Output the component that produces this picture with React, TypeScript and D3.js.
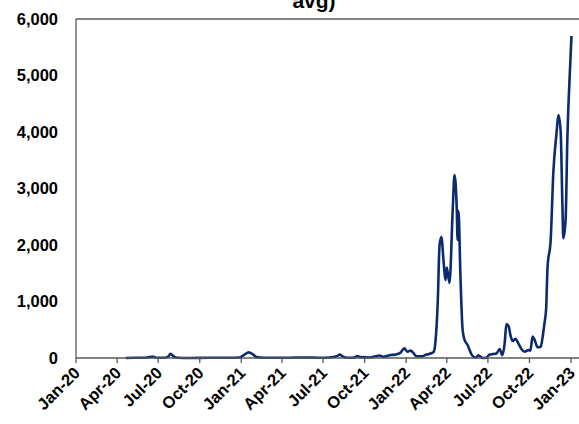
import React from "react";
import * as d3 from "d3";

// readings (date, value)
const dates = [
  "2020-04-20", "2020-05-10", "2020-06-01", "2020-06-12", "2020-06-18", "2020-06-27",
  "2020-07-15", "2020-07-24", "2020-07-28", "2020-08-04", "2020-08-13", "2020-09-08",
  "2020-10-23", "2020-12-06", "2020-12-28", "2021-01-08", "2021-01-17", "2021-01-26",
  "2021-02-04", "2021-02-21", "2021-04-18", "2021-05-21", "2021-06-23", "2021-07-15",
  "2021-07-31", "2021-08-07", "2021-08-13", "2021-08-24", "2021-09-09", "2021-09-15",
  "2021-09-22", "2021-10-12", "2021-10-25", "2021-11-03", "2021-11-12", "2021-11-25",
  "2021-12-08", "2021-12-19", "2021-12-28", "2022-01-04", "2022-01-11", "2022-01-17",
  "2022-01-24", "2022-02-04", "2022-02-15", "2022-02-24", "2022-03-03", "2022-03-07",
  "2022-03-12", "2022-03-16", "2022-03-20", "2022-03-25", "2022-03-29", "2022-04-01",
  "2022-04-07", "2022-04-14", "2022-04-18", "2022-04-23", "2022-04-25", "2022-04-27",
  "2022-05-01", "2022-05-06", "2022-05-10", "2022-05-17", "2022-05-26", "2022-06-04",
  "2022-06-10", "2022-06-17", "2022-06-26", "2022-07-05", "2022-07-13", "2022-07-20",
  "2022-07-27", "2022-08-02", "2022-08-07", "2022-08-11", "2022-08-16", "2022-08-20",
  "2022-08-25", "2022-08-31", "2022-09-07", "2022-09-14", "2022-09-20", "2022-09-29",
  "2022-10-03", "2022-10-08", "2022-10-12", "2022-10-19", "2022-10-26", "2022-10-30",
  "2022-11-03", "2022-11-07", "2022-11-10", "2022-11-17", "2022-11-23", "2022-11-30",
  "2022-12-04", "2022-12-09", "2022-12-13", "2022-12-15", "2022-12-20", "2022-12-24",
  "2022-12-31", "2023-01-02",
];

const values = [
  0, 5, 5, 15, 25, 5,
  5, 30, 75, 30, 5, 0,
  5, 5, 10, 60, 100, 70,
  15, 5, 5, 10, 5, 10,
  30, 60, 30, 5, 10, 35,
  15, 10, 30, 45, 20, 50,
  60, 90, 170, 110, 130, 90,
  30, 30, 60, 80, 110, 300,
  1000, 2000, 2140, 1700, 1380, 1600,
  1330, 2600, 3240, 2650, 2090, 2600,
  1500, 500, 330, 230, 60, 5,
  50, 10, 0, 60, 70, 80,
  160, 50, 250, 600, 560, 400,
  300, 340, 250, 150, 110, 140,
  130, 380, 330, 190, 200, 360,
  600, 880, 1600, 2090, 3300, 3980,
  4300, 4030, 2700, 2120, 2440, 3900,
  5330, 5700,
];

const yTicks = [0, 1000, 2000, 3000, 4000, 5000, 6000];
const titleTail = "avg)";

const W = 579;
const H = 424;
const left = 76;
const top = 19;
const bottom = 358;
const font = "'Liberation Sans', Arial, sans-serif";

export default function App() {
  const parse = d3.timeParse("%Y-%m-%d");
  const data = dates.map((d, i) => ({ date: parse(d) as Date, value: values[i] }));

  const x = d3
    .scaleTime()
    .domain([new Date(2020, 0, 1), new Date(2023, 0, 1)])
    .range([left, 571]);
  const y = d3.scaleLinear().domain([0, 6000]).range([bottom, top]);

  const xTicks = d3.timeMonth.every(3)!.range(new Date(2020, 0, 1), new Date(2023, 0, 2));
  const fmtX = d3.timeFormat("%b-%y");
  const fmtY = d3.format(",");

  const line = d3
    .line<{ date: Date; value: number }>()
    .x((d) => x(d.date))
    .y((d) => y(d.value))
    .curve(d3.curveMonotoneX);

  return (
    <svg
      width={W}
      height={H}
      style={{ position: "absolute", left: 0, top: 0, background: "#fff" }}
      fontFamily={font}
    >
      <text
        x={314}
        y={8}
        textAnchor="middle"
        fontSize={21}
        fontWeight="bold"
        fill="#000"
      >
        {titleTail}
      </text>

      {/* plot frame */}
      <line x1={left} x2={W + 2} y1={top} y2={top} stroke="#595959" strokeWidth={1.3} />
      <line x1={left} x2={left} y1={top} y2={bottom} stroke="#595959" strokeWidth={1.3} />

      {yTicks.map((t) => (
        <text
          key={t}
          x={58}
          y={y(t)}
          dy="0.36em"
          textAnchor="end"
          fontSize={16.5}
          fontWeight="bold"
          fill="#000"
        >
          {fmtY(t)}
        </text>
      ))}

      <path d={line(data) ?? ""} fill="none" stroke="#0c2a6e" strokeWidth={2.6} strokeLinejoin="round" />

      <line x1={left} x2={W + 2} y1={bottom} y2={bottom} stroke="#595959" strokeWidth={1.3} />
      {xTicks.map((t) => (
        <g key={t.getTime()}>
          <line x1={x(t)} x2={x(t)} y1={bottom} y2={bottom + 5} stroke="#595959" strokeWidth={1.3} />
          <text
            transform={`translate(${x(t) + 1},${bottom + 12}) rotate(-45)`}
            textAnchor="end"
            dy="0.35em"
            fontSize={16.5}
            fontWeight="bold"
            fill="#000"
          >
            {fmtX(t)}
          </text>
        </g>
      ))}
    </svg>
  );
}
